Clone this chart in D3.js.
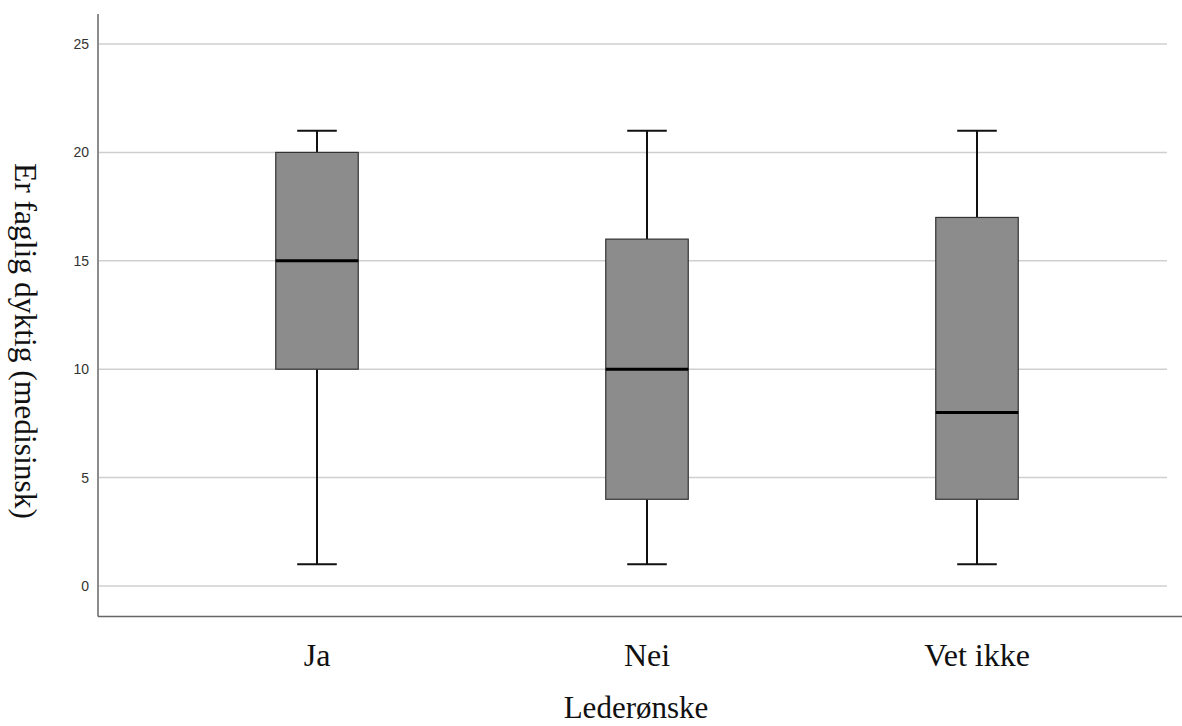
<!DOCTYPE html>
<html>
<head>
<meta charset="utf-8">
<script src="https://cdn.jsdelivr.net/npm/d3@7"></script>
<style>
  body { margin: 0; background: #fff; }
  svg { display: block; }
</style>
</head>
<body>
<svg id="chart" width="1182" height="726"></svg>
<script>
// data
const categories = ["Ja", "Nei", "Vet ikke"];
const whiskerLow = [1, 1, 1];
const q1 = [10, 4, 4];
const medians = [15, 10, 8];
const q3 = [20, 16, 17];
const whiskerHigh = [21, 21, 21];
const yTicks = [0, 5, 10, 15, 20, 25];

const svg = d3.select("#chart");

const y = d3.scaleLinear().domain([0, 25]).range([586, 44]);
const x = d3.scaleBand().domain(categories).range([152, 1142]).paddingInner(0).paddingOuter(0);

const plotLeft = 98, plotRight = 1167, plotTop = 14, plotBottom = 616.5;
const serif = "'Liberation Serif', 'Times New Roman', serif";

// gridlines
svg.append("g")
    .selectAll("line")
    .data(yTicks)
    .join("line")
    .attr("x1", plotLeft + 1)
    .attr("x2", plotRight)
    .attr("y1", d => y(d))
    .attr("y2", d => y(d))
    .attr("stroke", "#cfcfcf")
    .attr("stroke-width", 1.5);

// y axis
const yAxis = svg.append("g")
    .attr("transform", `translate(${plotLeft},0)`)
    .call(d3.axisLeft(y).tickValues(yTicks).tickSize(0).tickPadding(9));
yAxis.select(".domain").remove();
yAxis.selectAll("text")
    .attr("font-family", "Arial, 'Liberation Sans', sans-serif")
    .attr("font-size", 14)
    .attr("fill", "#333");

// axis lines
svg.append("line")
    .attr("x1", plotLeft).attr("x2", plotLeft)
    .attr("y1", plotTop).attr("y2", plotBottom)
    .attr("stroke", "#666").attr("stroke-width", 1.5);
svg.append("line")
    .attr("x1", plotLeft).attr("x2", 1182)
    .attr("y1", plotBottom).attr("y2", plotBottom)
    .attr("stroke", "#666").attr("stroke-width", 1.5);

// boxes
const rows = categories.map((c, i) => ({
    cat: c, lo: whiskerLow[i], q1: q1[i], med: medians[i], q3: q3[i], hi: whiskerHigh[i]
}));

const boxW = x.bandwidth() * 0.25;
const capW = x.bandwidth() * 0.12;

const g = svg.append("g")
    .selectAll("g")
    .data(rows)
    .join("g")
    .attr("transform", d => `translate(${x(d.cat) + x.bandwidth() / 2},0)`);

g.append("line")
    .attr("x1", 0).attr("x2", 0)
    .attr("y1", d => y(d.hi)).attr("y2", d => y(d.q3))
    .attr("stroke", "#111").attr("stroke-width", 2);
g.append("line")
    .attr("x1", 0).attr("x2", 0)
    .attr("y1", d => y(d.q1)).attr("y2", d => y(d.lo))
    .attr("stroke", "#111").attr("stroke-width", 2);
g.append("line")
    .attr("x1", -capW / 2).attr("x2", capW / 2)
    .attr("y1", d => y(d.hi)).attr("y2", d => y(d.hi))
    .attr("stroke", "#111").attr("stroke-width", 2);
g.append("line")
    .attr("x1", -capW / 2).attr("x2", capW / 2)
    .attr("y1", d => y(d.lo)).attr("y2", d => y(d.lo))
    .attr("stroke", "#111").attr("stroke-width", 2);

g.append("rect")
    .attr("x", -boxW / 2)
    .attr("width", boxW)
    .attr("y", d => y(d.q3))
    .attr("height", d => y(d.q1) - y(d.q3))
    .attr("fill", "#8c8c8c")
    .attr("stroke", "#333")
    .attr("stroke-width", 1.2);

g.append("line")
    .attr("x1", -boxW / 2).attr("x2", boxW / 2)
    .attr("y1", d => y(d.med)).attr("y2", d => y(d.med))
    .attr("stroke", "#000").attr("stroke-width", 3);

// category labels
svg.append("g")
    .selectAll("text")
    .data(categories)
    .join("text")
    .attr("x", d => x(d) + x.bandwidth() / 2)
    .attr("y", 666)
    .attr("text-anchor", "middle")
    .attr("font-family", serif)
    .attr("font-size", 32)
    .attr("fill", "#111")
    .text(d => d);

// axis titles
svg.append("text")
    .attr("x", 636)
    .attr("y", 718)
    .attr("text-anchor", "middle")
    .attr("font-family", serif)
    .attr("font-size", 31)
    .attr("fill", "#111")
    .text("Lederønske");

svg.append("text")
    .attr("transform", "translate(15,341) rotate(90)")
    .attr("text-anchor", "middle")
    .attr("font-family", serif)
    .attr("font-size", 31.5)
    .attr("fill", "#111")
    .text("Er faglig dyktig (medisinsk)");
</script>
</body>
</html>
